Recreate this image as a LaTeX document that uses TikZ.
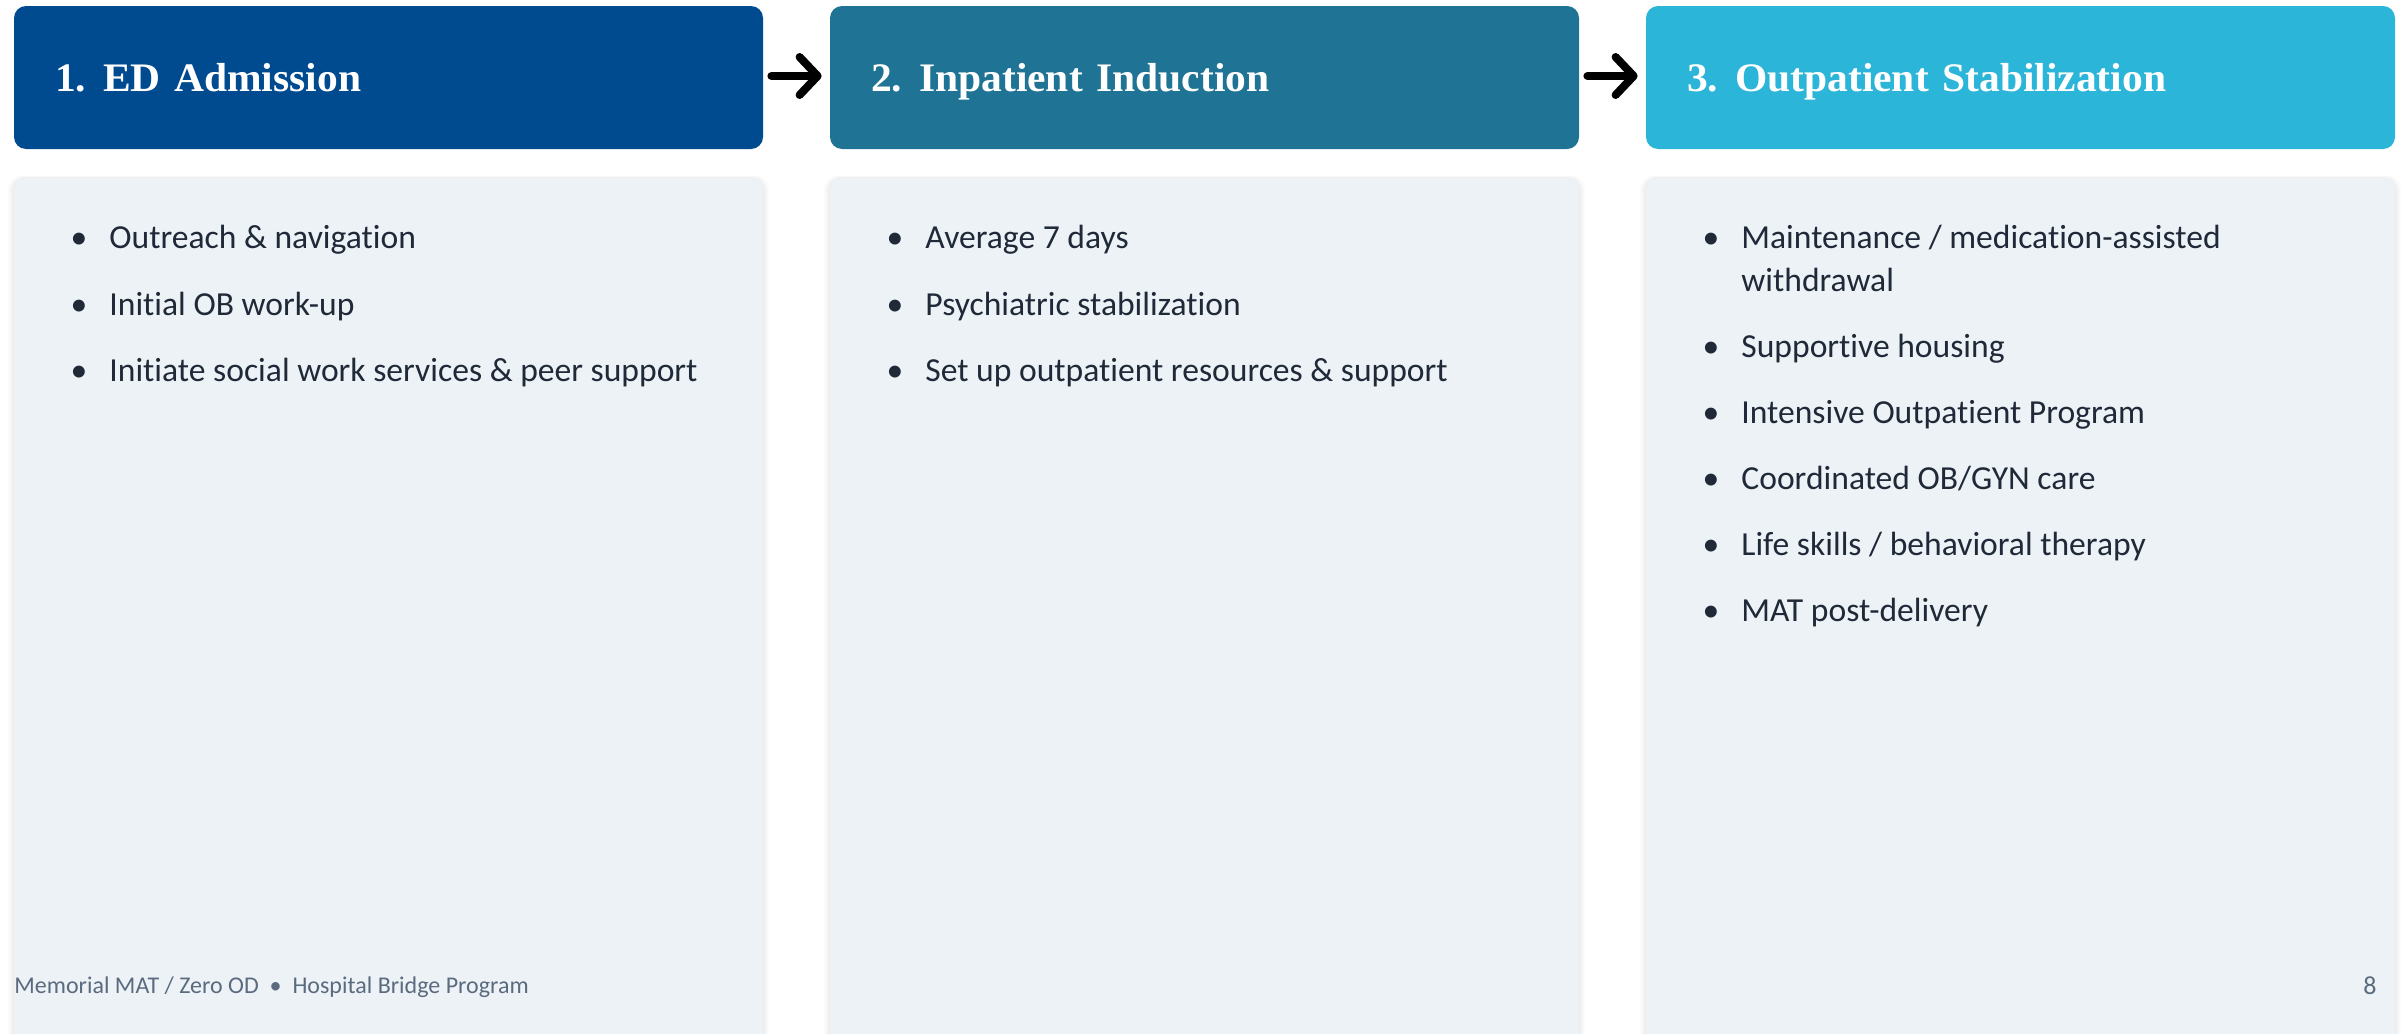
\documentclass[tikz,border=0pt]{standalone}
\usepackage{fontspec}
\setmainfont{Carlito}[Ligatures=NoCommon]
\newfontfamily\headfont{Liberation Serif}[FakeStretch=1.025]
\usetikzlibrary{arrows.meta}

\definecolor{stepA}{HTML}{004A8F}
\definecolor{stepB}{HTML}{1F7394}
\definecolor{stepC}{HTML}{2BB5D8}
\definecolor{panel}{HTML}{EDF2F7}
\definecolor{bodytext}{HTML}{1F2937}
\definecolor{foottext}{HTML}{5B6B7F}

\newcommand{\stepno}[1]{#1.\hspace{0.42em}}

\tikzset{
  header/.style={rounded corners=6pt, minimum width=374.5pt, minimum height=71.5pt,
    text width=333.5pt, inner xsep=20.5pt, inner ysep=0pt, align=left,
    text height=13.5pt, text depth=0pt, text=white,
    font=\headfont\bfseries\fontsize{20.25}{24}\selectfont},
  flow/.style={line width=4pt, line cap=round, line join=round,
    -{Straight Barb[length=9pt, width=19pt, round]},
    shorten <=4pt, shorten >=4pt},
  panelbox/.style={fill=panel, rounded corners=6pt},
  panelshade/.style={fill=black, fill opacity=0.010, rounded corners=7pt},
  dot/.style={anchor=base, inner sep=0pt, text=bodytext,
    font=\fontsize{16.8}{21.5}\selectfont},
  item/.style={anchor=base west, inner sep=0pt, text=bodytext, align=left,
    font=\fontsize{16.8}{21.5}\selectfont},
  foot/.style={inner sep=0pt, text=foottext},
}

\begin{document}
\begin{tikzpicture}[x=0.5pt, y=-0.5pt]
\useasboundingbox (0,0) rectangle (2402,1033);
\clip (0,0) rectangle (2402,1033);

% panels with a soft drop shadow
\foreach \l in {14,830,1646}{
  \foreach \s in {1,2,3,4,5,6}{
    \fill[panelshade] (\l-\s,178-\s*0.4) rectangle (\l+749+\s,1060);
  }
  \fill[panelbox] (\l,178) rectangle (\l+749,1060);
}

% step headers
\node[header, fill=stepA] (h1) at (388.5,77.5) {\stepno{1}ED Admission};
\node[header, fill=stepB] (h2) at (1204.5,77.5) {\stepno{2}Inpatient Induction};
\node[header, fill=stepC] (h3) at (2020.5,77.5) {\stepno{3}Outpatient Stabilization};

% arrows between the steps
\draw[flow] (h1.east |- 0,76) -- (h2.west |- 0,76);
\draw[flow] (h2.east |- 0,76) -- (h3.west |- 0,76);

% column 1
\node[dot] (d11) at (79,248) {•};
\node[item] (t11) at (109,248) {Outreach \& navigation};
\node[dot] (d12) at (79,315) {•};
\node[item] (t12) at (109,315) {Initial OB work-up};
\node[dot] (d13) at (79,381) {•};
\node[item] (t13) at (109,381) {Initiate social work services \& peer support};

% column 2
\node[dot] (d21) at (895,248) {•};
\node[item] (t21) at (925,248) {Average 7 days};
\node[dot] (d22) at (895,315) {•};
\node[item] (t22) at (925,315) {Psychiatric stabilization};
\node[dot] (d23) at (895,381) {•};
\node[item] (t23) at (925,381) {Set up outpatient resources \& support};

% column 3 (the first item wraps onto two lines; its base is the last line)
\node[dot] (d31) at (1711,248) {•};
\node[item] (t31) at (1741,291) {Maintenance / medication-assisted\\withdrawal};
\node[dot] (d32) at (1711,357) {•};
\node[item] (t32) at (1741,357) {Supportive housing};
\node[dot] (d33) at (1711,423) {•};
\node[item] (t33) at (1741,423) {Intensive Outpatient Program};
\node[dot] (d34) at (1711,489) {•};
\node[item] (t34) at (1741,489) {Coordinated OB/GYN care};
\node[dot] (d35) at (1711,555) {•};
\node[item] (t35) at (1741,555) {Life skills / behavioral therapy};
\node[dot] (d36) at (1711,621) {•};
\node[item] (t36) at (1741,621) {MAT post-delivery};

% footer
\node[foot, anchor=base west, font=\fontsize{12}{14}\selectfont] (ft) at (14,993)
  {Memorial MAT / Zero OD\ \ •\ \ Hospital Bridge Program};
\node[foot, anchor=base east, font=\fontsize{13}{15}\selectfont] (pg) at (2377,994) {8};
\end{tikzpicture}
\end{document}
